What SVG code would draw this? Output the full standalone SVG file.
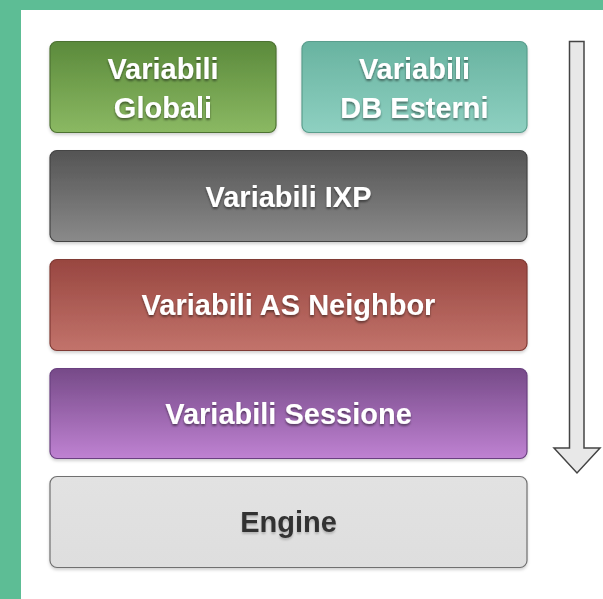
<svg xmlns="http://www.w3.org/2000/svg" width="603" height="599" viewBox="0 0 603 599">
<style>
.lbl{font-family:"Liberation Sans",Arial,sans-serif;font-weight:bold;font-size:29px;text-anchor:middle;fill:#ffffff}
.dark{fill:#333333}
.box{stroke-width:1.2}
</style>
<defs>
<linearGradient id="gG" x1="0" y1="0" x2="0" y2="1"><stop offset="0" stop-color="#5b8a3b"/><stop offset="1" stop-color="#8bb963"/></linearGradient>
<linearGradient id="gT" x1="0" y1="0" x2="0" y2="1"><stop offset="0" stop-color="#68b3a0"/><stop offset="1" stop-color="#8ed0c1"/></linearGradient>
<linearGradient id="gX" x1="0" y1="0" x2="0" y2="1"><stop offset="0" stop-color="#545454"/><stop offset="1" stop-color="#8a8a8a"/></linearGradient>
<linearGradient id="gR" x1="0" y1="0" x2="0" y2="1"><stop offset="0" stop-color="#984640"/><stop offset="1" stop-color="#c2736b"/></linearGradient>
<linearGradient id="gP" x1="0" y1="0" x2="0" y2="1"><stop offset="0" stop-color="#764a88"/><stop offset="1" stop-color="#bf82d2"/></linearGradient>
<linearGradient id="gE" x1="0" y1="0" x2="0" y2="1"><stop offset="0" stop-color="#e2e2e2"/><stop offset="1" stop-color="#dedede"/></linearGradient>
<filter id="ts" x="-10%" y="-30%" width="120%" height="160%"><feDropShadow dx="0" dy="2" stdDeviation="1" flood-color="#000" flood-opacity="0.45"/></filter>
<filter id="tsl" x="-10%" y="-30%" width="120%" height="160%"><feDropShadow dx="0" dy="2" stdDeviation="1" flood-color="#000" flood-opacity="0.2"/></filter>
<filter id="bs" x="-5%" y="-10%" width="110%" height="125%"><feDropShadow dx="0" dy="2" stdDeviation="1.5" flood-color="#000" flood-opacity="0.18"/></filter>
</defs>
<rect x="0" y="0" width="603" height="599" fill="#ffffff"/>
<rect x="0" y="0" width="603" height="10" fill="#5dbd95"/>
<rect x="0" y="0" width="21" height="599" fill="#5dbd95"/>

<g id="globali" filter="url(#bs)">
<rect class="box" x="50" y="41.5" width="226" height="91" rx="7" fill="url(#gG)" stroke="#4e7233"/>
<text class="lbl" filter="url(#ts)"><tspan x="163" y="79">Variabili</tspan><tspan x="163" y="118">Globali</tspan></text>
</g>
<g id="db-esterni" filter="url(#bs)">
<rect class="box" x="302" y="41.5" width="225" height="91" rx="7" fill="url(#gT)" stroke="#5a9e8d"/>
<text class="lbl" filter="url(#ts)"><tspan x="414.5" y="79">Variabili</tspan><tspan x="414.5" y="118">DB Esterni</tspan></text>
</g>
<g id="ixp" filter="url(#bs)">
<rect class="box" x="50" y="150.5" width="477" height="91" rx="7" fill="url(#gX)" stroke="#444"/>
<text class="lbl" x="288.5" y="207" filter="url(#ts)">Variabili IXP</text>
</g>
<g id="as-neighbor" filter="url(#bs)">
<rect class="box" x="50" y="259.5" width="477" height="91" rx="7" fill="url(#gR)" stroke="#803a34"/>
<text class="lbl" x="288.5" y="315" filter="url(#ts)">Variabili AS Neighbor</text>
</g>
<g id="sessione" filter="url(#bs)">
<rect class="box" x="50" y="368.5" width="477" height="90" rx="7" fill="url(#gP)" stroke="#6a4080"/>
<text class="lbl" x="288.5" y="424" filter="url(#ts)">Variabili Sessione</text>
</g>
<g id="engine" filter="url(#bs)">
<rect class="box" x="50" y="476.5" width="477" height="91" rx="7" fill="url(#gE)" stroke="#707070"/>
<text class="lbl dark" x="288.5" y="532" filter="url(#tsl)">Engine</text>
</g>

<g id="connectors">
<path d="M569.5,41.5 H584 V448 H600 L577,473 L554,448 H569.5 Z" fill="#e8e8e8" stroke="#444" stroke-width="1.5" stroke-linejoin="miter"/>
</g>
</svg>
